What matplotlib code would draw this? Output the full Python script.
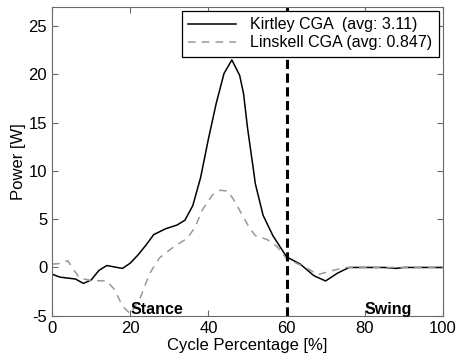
import matplotlib
matplotlib.use('Agg')
from matplotlib import pyplot as plt

# Kirtley CGA (solid)
kirtley_x = [0, 2, 6, 8, 10, 12, 14, 18, 20, 22, 24, 26, 29, 32, 34, 36, 38, 40, 42, 44, 46, 48, 49, 50, 51.5,
             52, 54, 56.5, 60, 63.5, 67, 70, 73, 76, 80, 85, 88, 90, 95, 100]
kirtley_y = [-0.7, -1.0, -1.2, -1.65, -1.3, -0.3, 0.2, -0.1, 0.45, 1.3, 2.3, 3.4, 4.0, 4.4, 4.9, 6.4, 9.3, 13.3, 17.0, 20.1, 21.5,
             19.9, 18.0, 14.5, 10.2, 8.7, 5.4, 3.3, 1.1, 0.35, -0.85, -1.4, -0.6, 0.0, 0.0, 0.0, -0.1, 0.0, 0.0, 0.0]

# Linskell CGA (dashed)
linskell_x = [0, 2, 4, 7, 10, 14, 16, 18, 20, 22.5, 25, 27.5, 31, 34.5, 36.5, 38.5, 41, 43, 45, 46.5, 49, 50.5, 52, 55,
              57.5, 60, 62.5, 66, 68, 71, 75, 80, 90, 100]
linskell_y = [0.35, 0.4, 0.7, -1.1, -1.35, -1.4, -2.3, -4.0, -4.8, -3.2, -0.6, 1.0, 2.1, 3.0, 4.1, 6.0, 7.5, 8.0, 7.9, 7.0,
              5.2, 4.1, 3.3, 2.9, 2.2, 0.9, 0.45, -0.25, -0.75, -0.4, 0.0, 0.0, 0.0, 0.0]

labels = ['Kirtley CGA  (avg: 3.11)', 'Linskell CGA (avg: 0.847)']
phase_x = 60

plt.rcParams['font.family'] = ['Liberation Sans', 'DejaVu Sans']
plt.rcParams['font.size'] = 12
plt.rcParams['axes.unicode_minus'] = False

fig = plt.figure(figsize=(4.57, 3.6), dpi=100)
ax = fig.add_axes([0.114, 0.123, 0.855, 0.858])

ax.plot(kirtley_x, kirtley_y, color='black', lw=1.1, label=labels[0])
ax.plot(linskell_x, linskell_y, color='#999999', lw=1.1, ls=(0, (5, 4)), label=labels[1])
ax.axvline(phase_x, color='black', lw=2.2, ls=(0, (3, 1.5)))

ax.text(20, -5.1, 'Stance', fontweight='bold', ha='left', va='bottom', fontsize=11.5)
ax.text(80, -5.1, 'Swing', fontweight='bold', ha='left', va='bottom', fontsize=11.5)

ax.set_xlim(0, 100)
ax.set_ylim(-5, 27)
ax.set_xticks([0, 20, 40, 60, 80, 100])
ax.set_yticks([-5, 0, 5, 10, 15, 20, 25])
ax.tick_params(direction='in', top=True, right=True, length=4, color='dimgray')
for s in ax.spines.values():
    s.set_color('dimgray')
ax.set_xlabel('Cycle Percentage [%]', labelpad=2)
ax.set_ylabel('Power [W]', labelpad=2)

leg = ax.legend(loc='upper right', bbox_to_anchor=(0.99, 0.987), fancybox=False, framealpha=1,
                edgecolor='black', handlelength=3.0, handletextpad=0.9, borderpad=0.4,
                labelspacing=0.2, fontsize=11.5, borderaxespad=0)
leg.get_frame().set_linewidth(0.9)

fig.savefig('out.png', dpi=100)
